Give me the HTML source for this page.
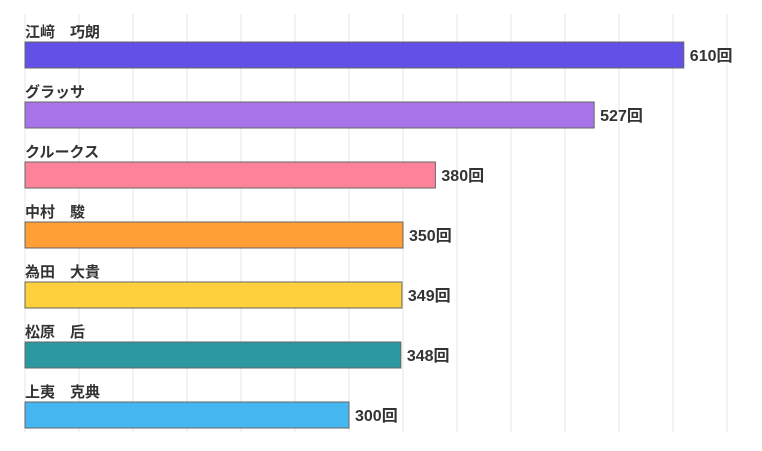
<!DOCTYPE html>
<html><head><meta charset="utf-8"><style>
body{margin:0;background:#fff}
svg text{font-family:"Liberation Sans","Noto Sans CJK JP",sans-serif;font-weight:bold;fill:#333}
</style></head><body>
<svg id="chart" width="762" height="446" xmlns="http://www.w3.org/2000/svg"></svg>
<script>
const categories=["江﨑　巧朗","グラッサ","クルークス","中村　駿","為田　大貴","松原　后","上夷　克典"];
const values=[610,527,380,350,349,348,300];
const valueSuffix="回";
const gridTicks=[0,50,100,150,200,250,300,350,400,450,500,550,600,650];
const colors=["#5b47e6","#a26ee8","#ff7b96","#ff9a2a","#ffcd33","#20949a","#3bb2ef"];
const svg=document.getElementById('chart');
const NS="http://www.w3.org/2000/svg";
const x0=25,k=1.08;
function xs(v){return x0+v*k;}
function yTop(i){return 42+i*60;}
function mk(t,a){const e=document.createElementNS(NS,t);for(const n in a)e.setAttribute(n,a[n]);svg.appendChild(e);return e;}
gridTicks.forEach(t=>{
  const l=mk('line',{x1:xs(t),x2:xs(t),y1:14,y2:432,stroke:'#e6e6e6','stroke-width':1});
  
  
});
categories.forEach((c,i)=>{
  const y=yTop(i);
  const lab=mk('text',{x:25,y:y-5,'font-size':15});
  lab.textContent=c;
  
  
  const r=mk('rect',{x:x0,y:y,width:xs(values[i])-x0,height:26,fill:colors[i],'fill-opacity':0.95,stroke:'#666','stroke-width':1});
  
  
  const v=mk('text',{x:xs(values[i])+6,y:y+19,'font-size':16});
  v.textContent=values[i]+valueSuffix;
  
  
});
</script>
</body></html>
